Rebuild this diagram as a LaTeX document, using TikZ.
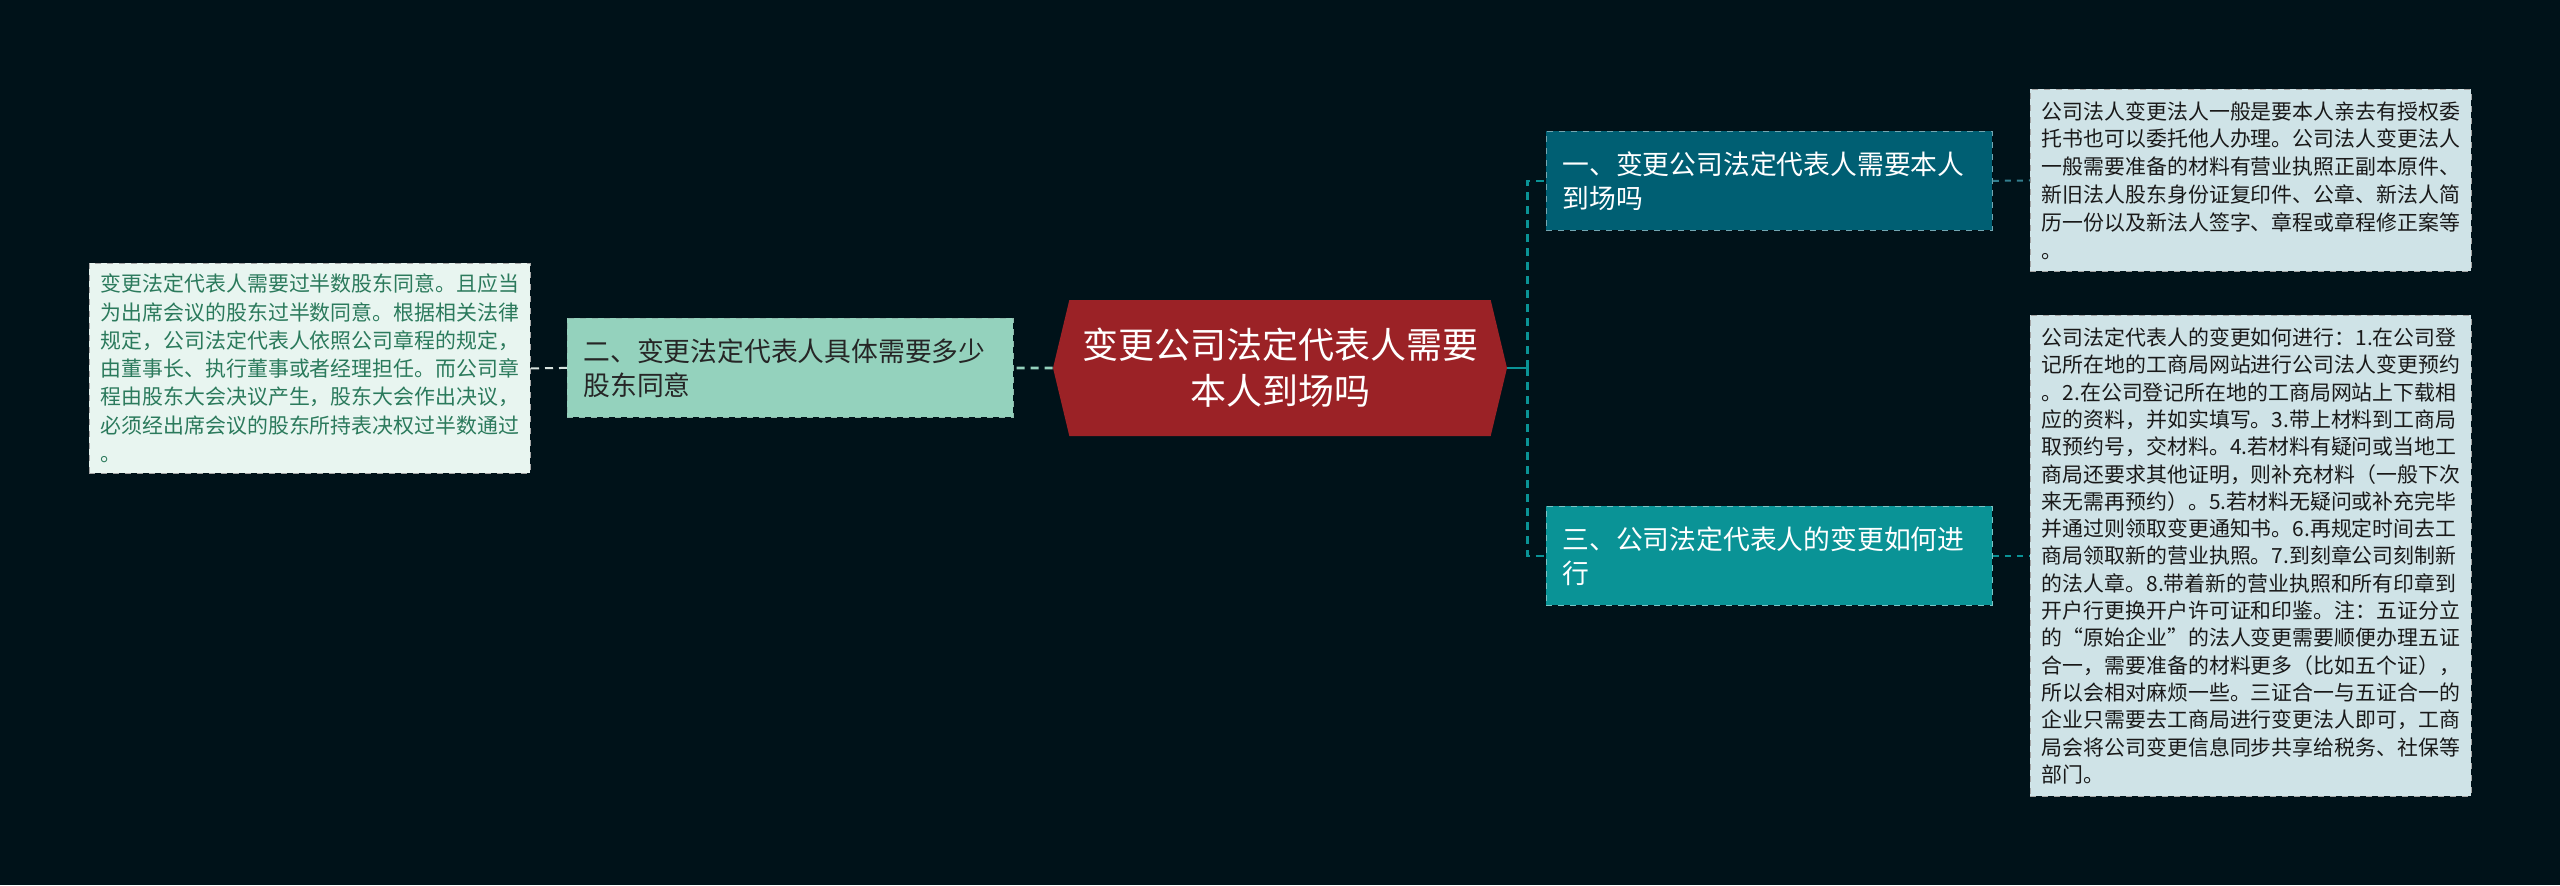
\documentclass[tikz,border=0pt]{standalone}
\usepackage{fontspec}
\newfontfamily\cjk{Noto Sans CJK SC}
\usetikzlibrary{shapes.symbols}
\definecolor{bgnavy}{HTML}{001219}
\definecolor{deepred}{HTML}{9B2226}
\definecolor{petrol}{HTML}{005F73}
\definecolor{seateal}{HTML}{0A9396}
\definecolor{mint}{HTML}{94D2BD}
\definecolor{mintpale}{HTML}{E8F5F0}
\definecolor{bluepale}{HTML}{CFE3E7}
\definecolor{leafgreen}{HTML}{2B7A5C}
\begin{document}
\begin{tikzpicture}[x=0.5pt, y=-0.5pt,
    topic/.style={signal, signal to=west and east, signal pointer angle=153, fill=deepred, text=white,
      font=\cjk\fontsize{18}{23}\selectfont, align=center, minimum width=227pt, minimum height=68pt, inner sep=0pt},
    branch/.style={anchor=north west, minimum width=223pt, minimum height=49.5pt, text width=207pt,
      inner xsep=8pt, inner ysep=0pt, align=left, font=\cjk\fontsize{13.4}{17}\selectfont, dashed, line width=0.4pt},
    note/.style={anchor=north west, minimum width=220.5pt, align=left, inner sep=0pt,
      font=\cjk\fontsize{10.45}{13.9}\selectfont, draw=gray!70, dashed, line width=0.4pt, text=black!90},
    link/.style={line width=1.4pt, dash pattern=on 4pt off 3pt}]
    \useasboundingbox (0,0) rectangle (2560,885);
    \fill[bgnavy] (0,0) rectangle (2560,885);

    % centre topic
    \node[topic] (topic) at (1280,368) {变更公司法定代表人需要\\本人到场吗};

    % branches
    \node[branch, fill=petrol, text=white, draw=petrol!55!white] (one) at (1546,131) {一、变更公司法定代表人需要本人\\到场吗};
    \node[branch, fill=mint, text=black!85, draw=mint!70!gray] (two) at (567,318) {二、变更法定代表人具体需要多少\\股东同意};
    \node[branch, fill=seateal, text=white, draw=seateal!55!white] (three) at (1546,506) {三、公司法定代表人的变更如何进\\行};

    % notes
    \node[note, fill=mintpale, text=leafgreen, minimum height=105pt, font=\cjk\fontsize{10.45}{14.15}\selectfont] (twonote) at (89,263) {变更法定代表人需要过半数股东同意。且应当\\为出席会议的股东过半数同意。根据相关法律\\规定，公司法定代表人依照公司章程的规定，\\由董事长、执行董事或者经理担任。而公司章\\程由股东大会决议产生，股东大会作出决议，\\必须经出席会议的股东所持表决权过半数通过\\。};
    \node[note, fill=bluepale, minimum height=91pt] (onenote) at (2030,89) {公司法人变更法人一般是要本人亲去有授权委\\托书也可以委托他人办理。公司法人变更法人\\一般需要准备的材料有营业执照正副本原件、\\新旧法人股东身份证复印件、公章、新法人简\\历一份以及新法人签字、章程或章程修正案等\\。};
    \node[note, fill=bluepale, minimum height=240.5pt, font=\cjk\fontsize{10.45}{13.65}\selectfont] (threenote) at (2030,315) {公司法定代表人的变更如何进行：1.在公司登\\记所在地的工商局网站进行公司法人变更预约\\。2.在公司登记所在地的工商局网站上下载相\\应的资料，并如实填写。3.带上材料到工商局\\取预约号，交材料。4.若材料有疑问或当地工\\商局还要求其他证明，则补充材料（一般下次\\来无需再预约）。5.若材料无疑问或补充完毕\\并通过则领取变更通知书。6.再规定时间去工\\商局领取新的营业执照。7.到刻章公司刻制新\\的法人章。8.带着新的营业执照和所有印章到\\开户行更换开户许可证和印鉴。注：五证分立\\的“原始企业”的法人变更需要顺便办理五证\\合一，需要准备的材料更多（比如五个证），\\所以会相对麻烦一些。三证合一与五证合一的\\企业只需要去工商局进行变更法人即可，工商\\局会将公司变更信息同步共享给税务、社保等\\部门。};

    % connectors
    \draw[link, mint] (topic.west) -- (two.east);
    \draw[line width=1pt, dash pattern=on 4pt off 3pt, mintpale!85!gray] (two.west) -- (twonote.east);
    \draw[line width=1.4pt, seateal] (topic.east) -- ++(20,0) coordinate (fork);
    \draw[link, seateal] (fork) |- (one.west);
    \draw[link, seateal] (fork) |- (three.west);
    \draw[line width=1pt, dashed, petrol!80!white] (one.east) -- (onenote.west);
    \draw[line width=1pt, dashed, seateal] (three.east) -- (threenote.west);
\end{tikzpicture}
\end{document}
